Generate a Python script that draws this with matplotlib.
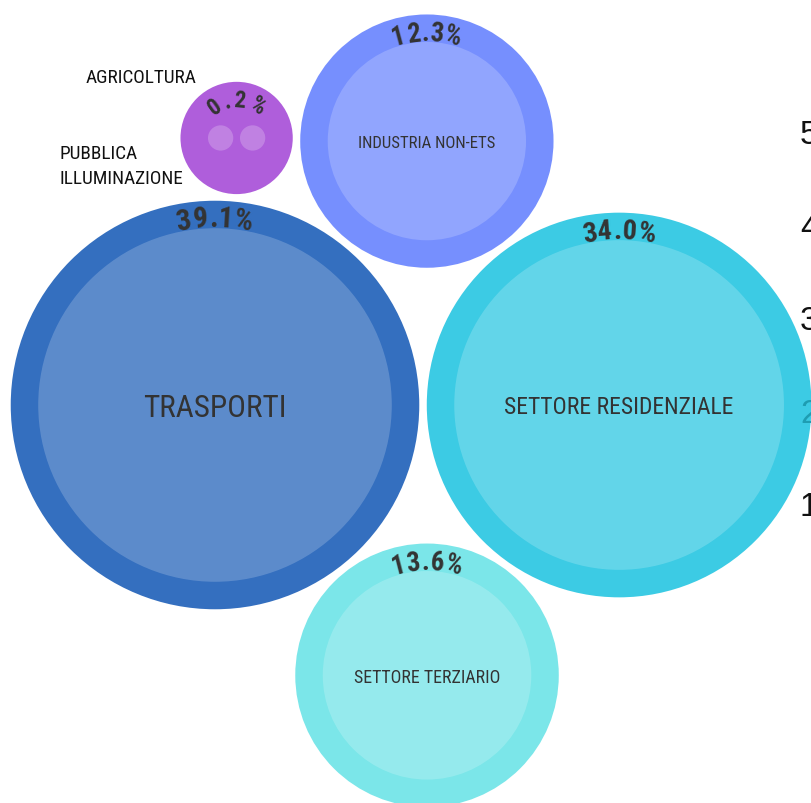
import numpy as np
import matplotlib
matplotlib.use("Agg")
import matplotlib.pyplot as plt
from matplotlib.patches import Circle
from matplotlib import font_manager as fm
from matplotlib.font_manager import FontProperties
from matplotlib.ft2font import FT2Font

# ---------------- data ----------------
sectors = ["TRASPORTI", "SETTORE RESIDENZIALE", "SETTORE TERZIARIO", "INDUSTRIA NON-ETS"]
shares = [39.1, 34.0, 13.6, 12.3]
small_group_share = 0.2
small_children = ["AGRICOLTURA", "PUBBLICA\nILLUMINAZIONE"]
small_children_values = [0.2, 0.2]
side_numbers = ["5", "4", "3", "2", "1"]
side_active = "2"

# ---------------- style ----------------
outer_colors = ["#346FBF", "#3CCBE4", "#7BE6E9", "#768FFE"]
group_color = "#AF5EDB"
text_dark = "#333333"
label_pt = [22.5, 17.0, 12.9, 12.1]      # category label font sizes (pt)
pct_pt = [21.3, 20.5, 19.4, 19.1]       # percentage font sizes (pt)
pct_spacing = [0.3, 0.3, 0.3, 0.3]      # extra letter spacing (px)
group_pct_pt = 16.5
group_pct_spacing = 2.0
child_label_pt = 13.9

K = 28.27       # px per sqrt(percent)
RING = 27.5     # ring thickness px
GAP = 7.5       # gap between circles px
CHILD_GAP = 6.7

available = {f.name for f in fm.fontManager.ttflist}
def pick(cands, default="DejaVu Sans"):
    for c in cands:
        if c in available:
            return c
    return default

label_font = pick(["Roboto Condensed", "Liberation Sans Narrow", "Roboto"])
cond_scale = 1.0 if label_font != "Roboto" else 0.86
pct_font = label_font
num_font = pick(["Liberation Sans", "Arimo", "DejaVu Sans"])

DPI = 100
fig = plt.figure(figsize=(8.11, 8.04), dpi=DPI)
ax = fig.add_axes([0, 0, 1, 1])
ax.set_axis_off()

# ---------------- layout (front-chain packing, px units) ----------------
r_in = [K * np.sqrt(v) for v in shares]
r_out = [r + RING for r in r_in]
child_r = [K * np.sqrt(v) for v in small_children_values]
g_in = child_r[0] + CHILD_GAP / 2 + max(child_r)
g_out = g_in + RING


def tangent(p1, r1, p2, r2, r, side):
    """centre of circle r tangent (with GAP) to circles 1 and 2."""
    d1 = r1 + r + GAP
    d2 = r2 + r + GAP
    p1 = np.asarray(p1, float); p2 = np.asarray(p2, float)
    v = p2 - p1
    L = np.hypot(*v)
    a = (d1 ** 2 - d2 ** 2 + L ** 2) / (2 * L)
    h = np.sqrt(max(d1 ** 2 - a ** 2, 0))
    u = v / L
    n = np.array([-u[1], u[0]])
    return p1 + a * u + side * h * n

centers = [None] * 4
centers[0] = np.array([0.0, 0.0])
centers[1] = np.array([r_out[0] + r_out[1] + GAP, 0.0])
centers[2] = tangent(centers[0], r_out[0], centers[1], r_out[1], r_out[2], +1)   # below (y down)
centers[3] = tangent(centers[0], r_out[0], centers[1], r_out[1], r_out[3], -1)   # above
g_center = tangent(centers[0], r_out[0], centers[3], r_out[3], g_out, -1)        # upper left

# view (first circle centre at px 215, 406)
ax.set_xlim(-215, 811 - 215)
ax.set_ylim(804 - 406, -406)
ax.set_aspect("equal")


def adv_widths(text, family, weight, size_pt):
    prop = FontProperties(family=family, weight=weight, size=size_pt)
    font = FT2Font(fm.findfont(prop))
    px = size_pt * DPI / 72.0
    font.set_size(px, 72)
    try:
        from matplotlib.ft2font import LoadFlags
        flags = LoadFlags.NO_HINTING
    except Exception:
        from matplotlib.ft2font import LOAD_NO_HINTING as flags
    out = []
    for ch in text:
        g = font.load_char(ord(ch), flags=flags)
        out.append(g.linearHoriAdvance / 65536.0)
    return out


def arc_text(cx, cy, R, text, size_pt, spacing):
    ws = adv_widths(text, pct_font, "bold", size_pt)
    total = sum(ws) + spacing * (len(text) - 1)
    s = -total / 2
    for ch, w in zip(text, ws):
        mid = s + w / 2
        th = mid / R
        x = cx + R * np.sin(th)
        y = cy - R * np.cos(th)
        ax.text(x, y, ch, family=pct_font, weight="bold", fontsize=size_pt,
                color=text_dark, ha="center", va="baseline",
                rotation=-np.degrees(th), rotation_mode="anchor", zorder=5)
        s += w + spacing


def cap_label(x, y, txt, size_pt, **kw):
    px = size_pt * DPI / 72.0
    ax.text(x, y + 0.36 * px, txt, family=label_font, fontsize=size_pt,
            ha="center", va="baseline", **kw)

# ---------------- main circles ----------------
for name, share, c, ri, ro, col, lp, pp, sp in zip(sectors, shares, centers, r_in, r_out,
                                                    outer_colors, label_pt, pct_pt, pct_spacing):
    ax.add_patch(Circle(c, ro, facecolor=col, edgecolor="none", zorder=1))
    ax.add_patch(Circle(c, ri, facecolor="white", alpha=0.2, edgecolor="none", zorder=2))
    cap_label(c[0], c[1], name, lp * cond_scale, color=text_dark, zorder=4)
    arc_text(c[0], c[1], ri + 2, f"{share:.1f}%", pp, sp)

# ---------------- small group ----------------
ax.add_patch(Circle(g_center, g_out, facecolor=group_color, edgecolor="none", zorder=1))
offs = [-(child_r[0] + CHILD_GAP / 2), (child_r[1] + CHILD_GAP / 2)]
for off, cr in zip(offs, child_r):
    ax.add_patch(Circle((g_center[0] + off, g_center[1]), cr, facecolor="white",
                        alpha=0.22, edgecolor="none", zorder=2))
arc_text(g_center[0], g_center[1], g_in + 3, f"{small_group_share:.1f}%",
         group_pct_pt, group_pct_spacing)

cl = child_label_pt * cond_scale
clpx = cl * DPI / 72.0
ax.text(g_center[0] - 96, g_center[1] - 62.6 + 0.36 * clpx, small_children[0],
        family=label_font, fontsize=cl, color="#111111", ha="center", va="baseline", zorder=4)
for i, line in enumerate(small_children[1].split("\n")):
    ax.text(g_center[0] - 177, g_center[1] + 13.4 + 25 * i + 0.36 * clpx, line,
            family=label_font, fontsize=cl, color="#111111", ha="left", va="baseline", zorder=4)

# ---------------- side numbers (partially visible, cut by the right edge as in the source) ----------------
for i, n in enumerate(side_numbers):
    ypx = 132 + 93 * i
    ax.text(800 - 215, ypx - 406 + 12, n, family=num_font, fontsize=24,
            color="#1E9DB2" if n == side_active else "#111111",
            ha="left", va="baseline", zorder=6, clip_on=False)

fig.savefig("out.png", dpi=DPI)
